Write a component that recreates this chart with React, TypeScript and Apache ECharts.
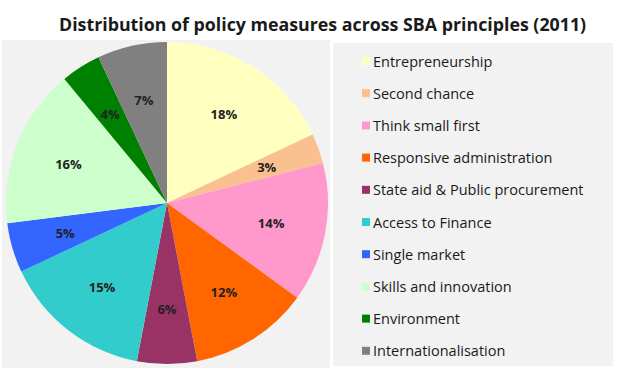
import React, { useEffect, useRef } from "react";
import * as echarts from "echarts";

const TITLE = "Distribution of policy measures across SBA principles (2011)";
const categories = [
  "Entrepreneurship",
  "Second chance",
  "Think small first",
  "Responsive administration",
  "State aid & Public procurement",
  "Access to Finance",
  "Single market",
  "Skills and innovation",
  "Environment",
  "Internationalisation",
];
const values = [18, 3, 14, 12, 6, 15, 5, 16, 4, 7];
const colors = [
  "#ffffc0",
  "#fac090",
  "#ff99cc",
  "#ff6600",
  "#993366",
  "#33cccc",
  "#3366ff",
  "#ccffcc",
  "#008000",
  "#808080",
];

export default function App() {
  const ref = useRef<HTMLDivElement>(null);
  useEffect(() => {
    if (!ref.current) return;
    const chart = echarts.init(ref.current, undefined, { renderer: "svg" });
    const data = categories.map((name, i) => ({
      name,
      value: values[i],
      itemStyle: { color: colors[i] },
    }));
    const labelData = categories.map((name, i) => ({
      name,
      value: values[i],
    }));
    chart.setOption({
      animation: false,
      backgroundColor: "#ffffff",
      title: {
        text: TITLE,
        left: 54,
        top: 10,
        textStyle: {
          fontFamily: "Open Sans",
          fontSize: 17.8,
          fontWeight: "bold",
          color: "#1a1a1a",
        },
      },
      graphic: [
        {
          type: "rect",
          z: -10,
          shape: { x: 2, y: 40, width: 328, height: 328 },
          style: { fill: "#f2f2f2" },
          silent: true,
        },
        {
          type: "rect",
          z: -10,
          shape: { x: 333, y: 43, width: 280, height: 323 },
          style: { fill: "#f2f2f2" },
          silent: true,
        },
      ],
      legend: {
        orient: "vertical",
        left: 357,
        top: 48,
        itemWidth: 8,
        itemHeight: 8,
        itemGap: 16.2,
        icon: "rect",
        selectedMode: false,
        data: categories,
        textStyle: {
          fontFamily: "Open Sans",
          fontSize: 14.5,
          color: "#1a1a1a",
          lineHeight: 16,
          padding: [0, 0, 0, -2],
        },
      },
      series: [
        {
          type: "pie",
          center: [167, 203],
          radius: [0, 161],
          startAngle: 90,
          clockwise: true,
          data,
          label: { show: false },
          labelLine: { show: false },
          emphasis: { disabled: true },
          silent: true,
        },
        {
          type: "pie",
          center: [167, 203],
          radius: [0, 206],
          startAngle: 90,
          clockwise: true,
          data: labelData,
          itemStyle: { color: "rgba(0,0,0,0)" },
          legendHoverLink: false,
          label: {
            show: true,
            position: "inside",
            formatter: "{c}%",
            fontFamily: "Open Sans",
            fontSize: 13,
            fontWeight: "bold",
            color: "#222222",
          },
          labelLine: { show: false },
          emphasis: { disabled: true },
          silent: true,
        },
      ],
    });
    return () => chart.dispose();
  }, []);
  return (
    <div
      ref={ref}
      style={{ position: "fixed", left: 0, top: 0, width: 620, height: 377 }}
    />
  );
}
